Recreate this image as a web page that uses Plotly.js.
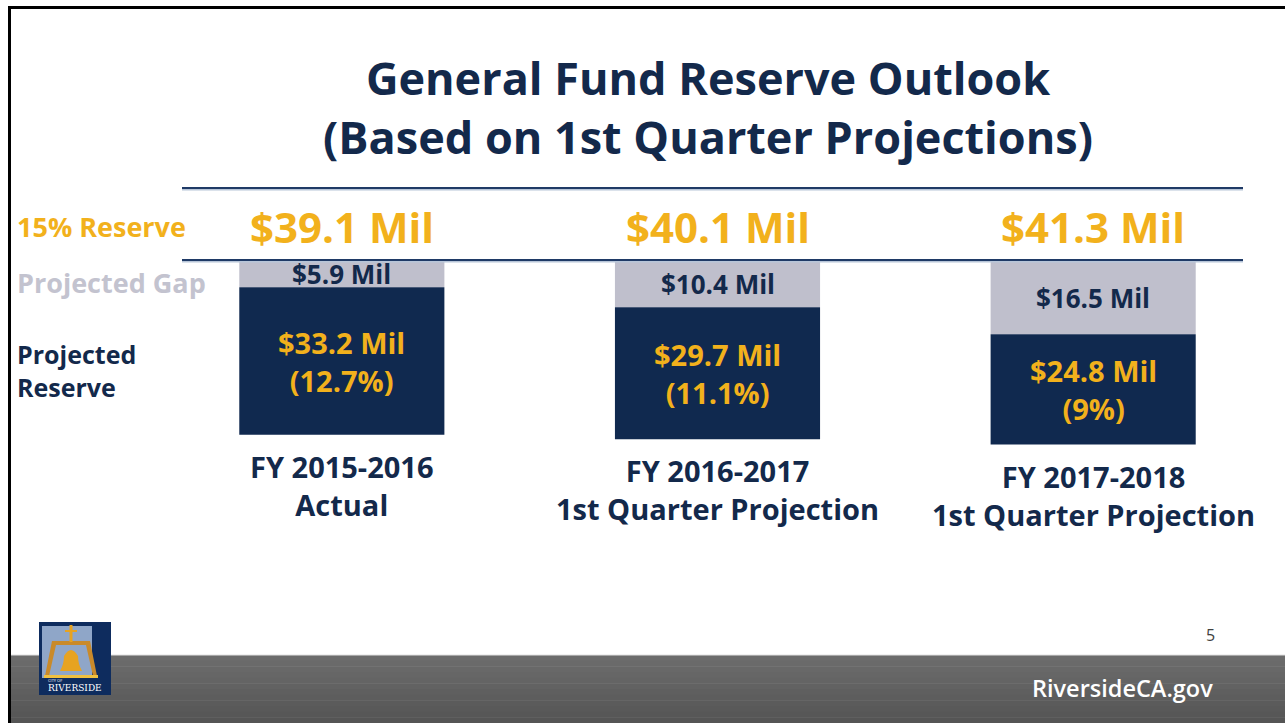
<!DOCTYPE html>
<html>
<head>
<meta charset="utf-8">
<script src="https://cdn.plot.ly/plotly-3.0.1.min.js"></script>
<style>html,body{margin:0;padding:0;background:#fff;}#chart{width:1285px;height:723px;}</style>
</head>
<body>
<div id="chart"></div>
<script>
// ---- data ----
const categories = ["FY 2015-2016", "FY 2016-2017", "FY 2017-2018"];
const categorySubtitles = ["Actual", "1st Quarter Projection", "1st Quarter Projection"];
const projectedGap = [5.9, 10.4, 16.5];
const projectedReserve = [33.2, 29.7, 24.8];
const reservePercent = ["12.7%", "11.1%", "9%"];
const rowLabels = ["15% Reserve", "Projected Gap", "Projected<br>Reserve"];

// ---- styles ----
const NAVY = "#13294b";
const BAR_NAVY = "#10294f";
const GAP_GRAY = "#bfbfcc";
const ORANGE = "#f2b11c";
const FONT = "Open Sans, sans-serif";
const W = 1285, H = 723;
const py = p => 1 - p / H;   // pixel y -> paper
const px = p => p / W;       // pixel x -> paper

const totals = projectedGap.map((g, i) => +(g + projectedReserve[i]).toFixed(1));

const traces = [
  {
    type: "bar", x: categories, y: projectedGap, base: 0,
    marker: {color: GAP_GRAY, line: {width: 0}}, width: 0.546,
    hoverinfo: "skip", showlegend: false
  },
  {
    type: "bar", x: categories, y: projectedReserve, base: projectedGap,
    marker: {color: BAR_NAVY, line: {width: 0}}, width: 0.546,
    hoverinfo: "skip", showlegend: false
  }
];

const annotations = [];
categories.forEach((c, i) => {
  // total 15% reserve
  annotations.push({xref: "x", yref: "paper", x: c, y: py(226), yanchor: "middle",
    text: "$" + totals[i].toFixed(1) + " Mil", showarrow: false,
    font: {family: FONT, size: 42, color: ORANGE, weight: 700}});
  // gap label
  annotations.push({xref: "x", yref: "y", x: c, y: projectedGap[i] / 2, yanchor: "middle",
    text: "$" + projectedGap[i].toFixed(1) + " Mil", showarrow: false,
    font: {family: FONT, size: 26, color: NAVY, weight: 700}});
  // reserve label
  annotations.push({xref: "x", yref: "y", x: c, y: projectedGap[i] + projectedReserve[i] / 2, yanchor: "middle",
    text: "$" + projectedReserve[i].toFixed(1) + " Mil<br>(" + reservePercent[i] + ")", showarrow: false,
    font: {family: FONT, size: 29, color: ORANGE, weight: 700}});
  // category label
  annotations.push({xref: "x", yref: "y", x: c, y: totals[i], yanchor: "top", yshift: -10,
    text: categories[i] + "<br>" + categorySubtitles[i], showarrow: false,
    font: {family: FONT, size: 29, color: NAVY, weight: 700}});
});

// row labels
annotations.push({xref: "paper", yref: "paper", x: px(15), y: py(226), xanchor: "left", yanchor: "middle",
  text: rowLabels[0], showarrow: false, font: {family: FONT, size: 27, color: ORANGE, weight: 700}});
annotations.push({xref: "paper", yref: "paper", x: px(15), y: py(283), xanchor: "left", yanchor: "middle",
  text: rowLabels[1], showarrow: false, font: {family: FONT, size: 27, color: "#c3c3cf", weight: 700}});
annotations.push({xref: "paper", yref: "paper", x: px(15), y: py(371), xanchor: "left", yanchor: "middle", align: "left",
  text: rowLabels[2], showarrow: false, font: {family: FONT, size: 25, color: NAVY, weight: 700}});

// page number and footer text
annotations.push({xref: "paper", yref: "paper", x: px(1210), y: py(635), xanchor: "center", yanchor: "middle",
  text: "5", showarrow: false, font: {family: FONT, size: 16, color: "#404040"}});
annotations.push({xref: "paper", yref: "paper", x: px(1122), y: py(688), xanchor: "center", yanchor: "middle",
  text: "RiversideCA.gov", showarrow: false, font: {family: FONT, size: 23.5, color: "#ffffff", weight: 600}});
// logo text
annotations.push({xref: "paper", yref: "paper", x: px(75), y: py(688), xanchor: "center", yanchor: "middle",
  text: "RIVERSIDE", showarrow: false, font: {family: "DejaVu Serif, serif", size: 9, color: "#ffffff"}});
annotations.push({xref: "paper", yref: "paper", x: px(55), y: py(680), xanchor: "center", yanchor: "middle",
  text: "CITY OF", showarrow: false, font: {family: FONT, size: 4, color: "#ffffff"}});

const shapes = [];
// footer gradient strips
const footTop = 655, footBot = 723, steps = 12;
for (let k = 0; k < steps; k++) {
  const t = k / (steps - 1);
  const v = Math.round(0x6c - t * (0x6c - 0x55));
  const col = "rgb(" + v + "," + v + "," + v + ")";
  const y0 = footTop + (footBot - footTop) * k / steps;
  const y1 = footTop + (footBot - footTop) * (k + 1) / steps + 0.5;
  shapes.push({type: "rect", xref: "paper", yref: "paper", x0: px(10), x1: 1, y0: py(y1), y1: py(y0),
    fillcolor: col, line: {width: 0}, layer: "below"});
}
shapes.push({type: "line", xref: "paper", yref: "paper", x0: px(10), x1: 1, y0: py(655), y1: py(655),
  line: {color: "#e2e2e2", width: 1}});
// slide border (top + left)
shapes.push({type: "line", xref: "paper", yref: "paper", x0: px(8.5), x1: 1, y0: py(7.5), y1: py(7.5),
  line: {color: "#000", width: 3}});
shapes.push({type: "line", xref: "paper", yref: "paper", x0: px(9.5), x1: px(9.5), y0: py(6), y1: 0,
  line: {color: "#000", width: 3}});
// horizontal rules
[188, 260].forEach(yy => {
  shapes.push({type: "line", xref: "paper", yref: "paper", x0: px(182), x1: px(1243), y0: py(yy + 1.5), y1: py(yy + 1.5),
    line: {color: "#b7c5d8", width: 2}});
  shapes.push({type: "line", xref: "paper", yref: "paper", x0: px(182), x1: px(1243), y0: py(yy), y1: py(yy),
    line: {color: "#1f3a66", width: 2}});
});
// logo
shapes.push({type: "rect", xref: "paper", yref: "paper", x0: px(39), x1: px(111), y0: py(695), y1: py(622),
  fillcolor: "#0e2c5e", line: {width: 0}});
shapes.push({type: "rect", xref: "paper", yref: "paper", x0: px(42), x1: px(92), y0: py(678), y1: py(626),
  fillcolor: "#8fa6c8", line: {width: 0}});
// bell frame
shapes.push({type: "path", xref: "paper", yref: "paper",
  path: "M " + px(45) + "," + py(676) + " L " + px(52) + "," + py(641) + " L " + px(90) + "," + py(641) +
        " L " + px(97) + "," + py(676) + " L " + px(93) + "," + py(676) + " L " + px(86) + "," + py(645) +
        " L " + px(56) + "," + py(645) + " L " + px(49) + "," + py(676) + " Z",
  fillcolor: "#c98a2a", line: {width: 0}});
// bell
shapes.push({type: "path", xref: "paper", yref: "paper",
  path: "M " + px(60) + "," + py(671) + " Q " + px(64) + "," + py(664) + " " + px(64) + "," + py(656) +
        " Q " + px(71) + "," + py(644) + " " + px(78) + "," + py(656) + " Q " + px(78) + "," + py(664) + " " + px(82) + "," + py(671) + " Z",
  fillcolor: "#e7a321", line: {width: 0}});
// cross
shapes.push({type: "rect", xref: "paper", yref: "paper", x0: px(69.5), x1: px(72.5), y0: py(642), y1: py(625),
  fillcolor: "#e7a321", line: {width: 0}});
shapes.push({type: "rect", xref: "paper", yref: "paper", x0: px(65), x1: px(77), y0: py(632), y1: py(630),
  fillcolor: "#e7a321", line: {width: 0}});
shapes.push({type: "rect", xref: "paper", yref: "paper", x0: px(44), x1: px(98), y0: py(678), y1: py(675),
  fillcolor: "#f0c040", line: {width: 0}});

const layout = {
  width: W, height: H,
  margin: {l: 0, r: 0, t: 0, b: 0},
  paper_bgcolor: "#ffffff", plot_bgcolor: "rgba(0,0,0,0)",
  barmode: "overlay",
  title: {
    text: "General Fund Reserve Outlook<br>(Based on 1st Quarter Projections)",
    x: px(708), xanchor: "center", y: py(95), yanchor: "middle",
    font: {family: FONT, size: 45, color: NAVY, weight: 700}
  },
  xaxis: {
    type: "category", range: [-0.5, 2.5], domain: [px(154), px(1281)],
    showticklabels: false, showgrid: false, zeroline: false, showline: false, ticks: ""
  },
  yaxis: {
    range: [45, 0], domain: [py(461), py(261)],
    showticklabels: false, showgrid: false, zeroline: false, showline: false, ticks: ""
  },
  annotations: annotations,
  shapes: shapes,
  showlegend: false
};

Plotly.newPlot("chart", traces, layout, {displayModeBar: false, staticPlot: true});
</script>
</body>
</html>
